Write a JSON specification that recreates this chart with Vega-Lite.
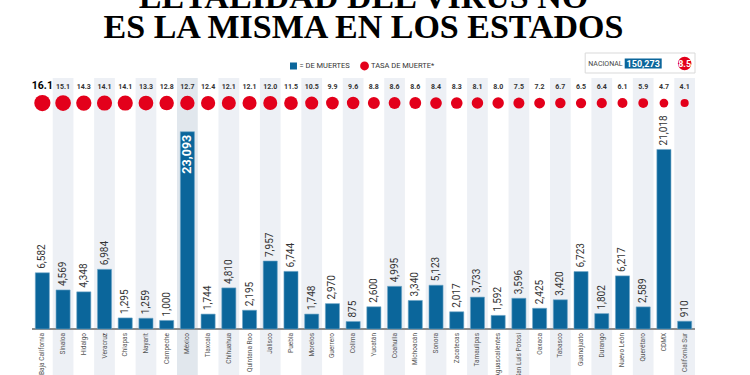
{
  "$schema": "https://vega.github.io/schema/vega-lite/v6.json",
  "width": 663,
  "height": 297,
  "autosize": {"type": "none"},
  "padding": {"left": 32, "top": 78, "right": 55, "bottom": 0},
  "background": "white",
  "title": {
    "text": ["LETALIDAD DEL VIRUS NO", "ES LA MISMA EN LOS ESTADOS"],
    "font": "Liberation Serif",
    "fontWeight": "bold",
    "fontSize": 34,
    "lineHeight": 30,
    "color": "#000000",
    "anchor": "middle",
    "frame": "group",
    "baseline": "bottom",
    "offset": -26
  },
  "config": {
    "view": {"stroke": null},
    "font": "Roboto"
  },
  "data": {
    "values": [
      {"state": "Baja California", "deaths": 6582, "rate": 16.1},
      {"state": "Sinaloa", "deaths": 4569, "rate": 15.1},
      {"state": "Hidalgo", "deaths": 4348, "rate": 14.3},
      {"state": "Veracruz", "deaths": 6984, "rate": 14.1},
      {"state": "Chiapas", "deaths": 1295, "rate": 14.1},
      {"state": "Nayarit", "deaths": 1259, "rate": 13.3},
      {"state": "Campeche", "deaths": 1000, "rate": 12.8},
      {"state": "México", "deaths": 23093, "rate": 12.7},
      {"state": "Tlaxcala", "deaths": 1744, "rate": 12.4},
      {"state": "Chihuahua", "deaths": 4810, "rate": 12.1},
      {"state": "Quintana Roo", "deaths": 2195, "rate": 12.1},
      {"state": "Jalisco", "deaths": 7957, "rate": 12.0},
      {"state": "Puebla", "deaths": 6744, "rate": 11.5},
      {"state": "Morelos", "deaths": 1748, "rate": 10.5},
      {"state": "Guerrero", "deaths": 2970, "rate": 9.9},
      {"state": "Colima", "deaths": 875, "rate": 9.6},
      {"state": "Yucatán", "deaths": 2600, "rate": 8.8},
      {"state": "Coahuila", "deaths": 4995, "rate": 8.6},
      {"state": "Michoacán", "deaths": 3340, "rate": 8.6},
      {"state": "Sonora", "deaths": 5123, "rate": 8.4},
      {"state": "Zacatecas", "deaths": 2017, "rate": 8.3},
      {"state": "Tamaulipas", "deaths": 3733, "rate": 8.1},
      {"state": "Aguascalientes", "deaths": 1592, "rate": 8.0},
      {"state": "San Luis Potosí", "deaths": 3596, "rate": 7.5},
      {"state": "Oaxaca", "deaths": 2425, "rate": 7.2},
      {"state": "Tabasco", "deaths": 3420, "rate": 6.7},
      {"state": "Guanajuato", "deaths": 6723, "rate": 6.5},
      {"state": "Durango", "deaths": 1802, "rate": 6.4},
      {"state": "Nuevo León", "deaths": 6217, "rate": 6.1},
      {"state": "Querétaro", "deaths": 2589, "rate": 5.9},
      {"state": "CDMX", "deaths": 21018, "rate": 4.7},
      {"state": "California Sur", "deaths": 910, "rate": 4.1}
    ]
  },
  "layer": [
    {
      "transform": [
        {"filter": "indexof(['Sinaloa','Veracruz','Nayarit','México','Chihuahua','Jalisco','Morelos','Colima','Coahuila','Sonora','Tamaulipas','San Luis Potosí','Tabasco','Durango','Querétaro','California Sur'], datum.state) >= 0"}
      ],
      "mark": {"type": "rect"},
      "encoding": {
        "x": {
          "field": "state",
          "type": "nominal",
          "scale": {
            "domain": ["Baja California","Sinaloa","Hidalgo","Veracruz","Chiapas","Nayarit","Campeche","México","Tlaxcala","Chihuahua","Quintana Roo","Jalisco","Puebla","Morelos","Guerrero","Colima","Yucatán","Coahuila","Michoacán","Sonora","Zacatecas","Tamaulipas","Aguascalientes","San Luis Potosí","Oaxaca","Tabasco","Guanajuato","Durango","Nuevo León","Querétaro","CDMX","California Sur"],
            "paddingInner": 0,
            "paddingOuter": 0
          },
          "axis": null
        },
        "y": {"datum": 29381, "type": "quantitative", "scale": {"domain": [-5385, 29381], "nice": false}, "axis": null},
        "y2": {"datum": -5385},
        "fill": {
          "condition": {"test": "datum.state == 'México'", "value": "#e1e7ed"},
          "value": "#edf0f5"
        }
      }
    },
    {
      "mark": {"type": "rule", "color": "#8c8c8c", "strokeWidth": 1},
      "encoding": {"y": {"datum": 0, "type": "quantitative"}}
    },
    {
      "mark": {"type": "bar", "width": {"band": 0.68}, "color": "#0b669b", "stroke": "#6fa6c8", "strokeWidth": 0.6},
      "encoding": {
        "x": {"field": "state", "type": "nominal"},
        "y": {"field": "deaths", "type": "quantitative"}
      }
    },
    {
      "transform": [{"filter": "datum.state != 'México'"}],
      "mark": {"type": "text", "angle": 270, "align": "left", "baseline": "middle", "dx": 4, "fontSize": 10, "color": "#333333", "font": "Roboto"},
      "encoding": {
        "x": {"field": "state", "type": "nominal"},
        "y": {"field": "deaths", "type": "quantitative"},
        "text": {"field": "deaths", "type": "quantitative", "format": ","}
      }
    },
    {
      "transform": [{"filter": "datum.state == 'México'"}],
      "mark": {"type": "text", "angle": 270, "align": "right", "baseline": "middle", "dx": -3, "fontSize": 12.5, "fontWeight": "bold", "color": "#ffffff", "font": "Roboto"},
      "encoding": {
        "x": {"field": "state", "type": "nominal"},
        "y": {"field": "deaths", "type": "quantitative"},
        "text": {"field": "deaths", "type": "quantitative", "format": ","}
      }
    },
    {
      "mark": {"type": "circle", "opacity": 1, "color": "#e3001b"},
      "encoding": {
        "x": {"field": "state", "type": "nominal"},
        "y": {"datum": 26450, "type": "quantitative"},
        "size": {
          "field": "rate",
          "type": "quantitative",
          "scale": {"domain": [0, 16.1], "range": [0, 262]},
          "legend": null
        }
      }
    },
    {
      "transform": [{"filter": "datum.state != 'Baja California'"}],
      "mark": {"type": "text", "baseline": "alphabetic", "align": "center", "fontWeight": "bold", "font": "Roboto", "fontSize": 7, "color": "#333333"},
      "encoding": {
        "x": {"field": "state", "type": "nominal"},
        "y": {"datum": 28150, "type": "quantitative"},
        "text": {"field": "rate", "type": "quantitative", "format": ".1f"}
      }
    },
    {
      "transform": [{"filter": "datum.state == 'Baja California'"}],
      "mark": {"type": "text", "baseline": "alphabetic", "align": "center", "fontWeight": "bold", "font": "Roboto", "fontSize": 10.5, "color": "#000000"},
      "encoding": {
        "x": {"field": "state", "type": "nominal"},
        "y": {"datum": 28150, "type": "quantitative"},
        "text": {"field": "rate", "type": "quantitative", "format": ".1f"}
      }
    },
    {
      "mark": {"type": "text", "angle": 270, "align": "right", "baseline": "middle", "dx": -4, "fontSize": 6.5, "color": "#555555", "font": "Roboto"},
      "encoding": {
        "x": {"field": "state", "type": "nominal"},
        "y": {"datum": 0, "type": "quantitative"},
        "text": {"field": "state", "type": "nominal"}
      }
    },
    {
      "data": {"values": [{"label": "NACIONAL", "deaths": 150273, "rate": 8.5}]},
      "layer": [
        {
          "mark": {"type": "point", "shape": "square", "filled": true, "size": 49, "color": "#0b669b", "opacity": 1},
          "encoding": {
            "x": {"datum": "Puebla", "type": "nominal", "bandPosition": 0.62},
            "y": {"datum": 30786, "type": "quantitative"}
          }
        },
        {
          "mark": {"type": "text", "text": "= DE MUERTES", "align": "left", "baseline": "middle", "fontSize": 7.5, "color": "#333333", "font": "Roboto"},
          "encoding": {
            "x": {"datum": "Puebla", "type": "nominal", "bandPosition": 0.91},
            "y": {"datum": 30786, "type": "quantitative"}
          }
        },
        {
          "mark": {"type": "circle", "size": 78, "color": "#e3001b", "opacity": 1},
          "encoding": {
            "x": {"datum": "Yucatán", "type": "nominal", "bandPosition": 0.05},
            "y": {"datum": 30786, "type": "quantitative"}
          }
        },
        {
          "mark": {"type": "text", "text": "TASA DE MUERTE*", "align": "left", "baseline": "middle", "fontSize": 7.5, "color": "#333333", "font": "Roboto"},
          "encoding": {
            "x": {"datum": "Yucatán", "type": "nominal", "bandPosition": 0.36},
            "y": {"datum": 30786, "type": "quantitative"}
          }
        },
        {
          "mark": {"type": "rect", "fill": "#ffffff", "stroke": "#d9d9d9", "strokeWidth": 1},
          "encoding": {
            "x": {"datum": "Guanajuato", "type": "nominal", "bandPosition": 0.7},
            "x2": {"datum": "California Sur", "bandPosition": 1},
            "y": {"datum": 32307, "type": "quantitative"},
            "y2": {"datum": 29966}
          }
        },
        {
          "mark": {"type": "text", "align": "left", "baseline": "middle", "fontSize": 7, "color": "#444444", "font": "Roboto"},
          "encoding": {
            "x": {"datum": "Guanajuato", "type": "nominal", "bandPosition": 0.85},
            "y": {"datum": 31078, "type": "quantitative"},
            "text": {"field": "label", "type": "nominal"}
          }
        },
        {
          "mark": {"type": "bar", "width": 37, "fill": "#0b669b"},
          "encoding": {
            "x": {"datum": "Querétaro", "type": "nominal"},
            "y": {"datum": 31664, "type": "quantitative"},
            "y2": {"datum": 30493}
          }
        },
        {
          "mark": {"type": "text", "align": "center", "baseline": "middle", "fontSize": 9, "fontWeight": "bold", "color": "#ffffff", "font": "Roboto"},
          "encoding": {
            "x": {"datum": "Querétaro", "type": "nominal", "bandPosition": 0.5},
            "y": {"datum": 31078, "type": "quantitative"},
            "text": {"field": "deaths", "type": "quantitative", "format": ","}
          }
        },
        {
          "mark": {"type": "circle", "size": 185, "color": "#e3001b", "opacity": 1},
          "encoding": {
            "x": {"datum": "California Sur", "type": "nominal", "bandPosition": 0.5},
            "y": {"datum": 31078, "type": "quantitative"}
          }
        },
        {
          "mark": {"type": "text", "align": "center", "baseline": "middle", "fontSize": 9, "fontWeight": "bold", "color": "#ffffff", "font": "Roboto"},
          "encoding": {
            "x": {"datum": "California Sur", "type": "nominal", "bandPosition": 0.5},
            "y": {"datum": 31078, "type": "quantitative"},
            "text": {"field": "rate", "type": "quantitative", "format": ".1f"}
          }
        }
      ]
    }
  ]
}
